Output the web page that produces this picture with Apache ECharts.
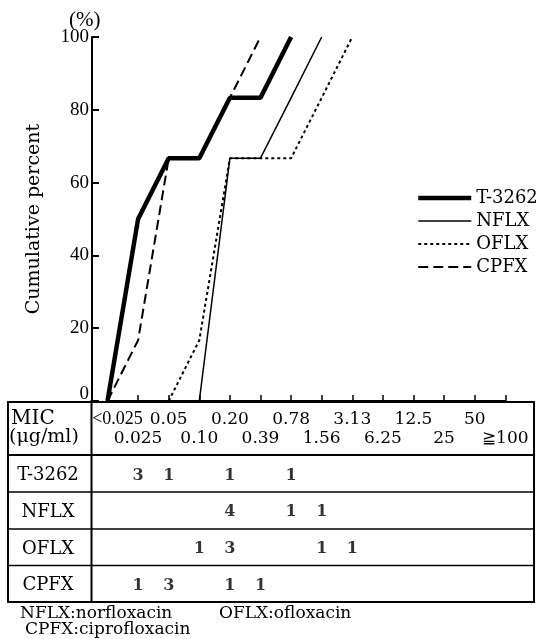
<!DOCTYPE html>
<html>
<head>
<meta charset="utf-8">
<script src="https://cdn.jsdelivr.net/npm/echarts@6/dist/echarts.min.js"></script>
<style>html,body{margin:0;padding:0;background:#fff}#c{width:538px;height:639px}</style>
</head>
<body>
<div id="c"></div>
<script>
// MIC categories (µg/ml)
const categories = ['<0.025','0.025','0.05','0.10','0.20','0.39','0.78','1.56','3.13','6.25','12.5','25','50','≧100'];
const drugs = ['T-3262','NFLX','OFLX','CPFX'];
// cumulative percent
const cumT3262 = [0,50,66.7,66.7,83.3,83.3,100,null,null,null,null,null,null,null];
const cumNFLX  = [null,null,null,0,66.7,66.7,83.3,100,null,null,null,null,null,null];
const cumOFLX  = [null,null,0,16.7,66.7,66.7,66.7,83.3,100,null,null,null,null,null];
const cumCPFX  = [0,16.7,66.7,66.7,83.3,100,null,null,null,null,null,null,null,null];
// number of strains per MIC (table)
const cntT3262 = [null,3,1,null,1,null,1,null,null,null,null,null,null,null];
const cntNFLX  = [null,null,null,null,4,null,1,1,null,null,null,null,null,null];
const cntOFLX  = [null,null,null,1,3,null,null,1,1,null,null,null,null,null];
const cntCPFX  = [null,1,3,null,1,1,null,null,null,null,null,null,null,null];

const serif = 'DejaVu Serif';
const gridLeft = 107.5, gridRight = 32.7;

const cums = [cumT3262, cumNFLX, cumOFLX, cumCPFX];
const cnts = [cntT3262, cntNFLX, cntOFLX, cntCPFX];
const styles = [
  {width: 4.5, type: 'solid'},
  {width: 1.5, type: 'solid'},
  {width: 2, type: [3, 3]},
  {width: 2, type: [10, 5]}
];

const lineSeries = drugs.map((d, k) => ({
  name: d, type: 'line', xAxisIndex: 0, yAxisIndex: 0,
  data: cums[k], symbol: 'none', clip: false, connectNulls: false,
  lineStyle: Object.assign({color: '#000'}, styles[k]),
  itemStyle: {color: '#000'}
}));

const tableSeries = drugs.map((d, k) => ({
  name: 'tbl-' + d, type: 'scatter', xAxisIndex: 1, yAxisIndex: 1,
  symbolSize: 0,
  data: cnts[k].map((c, i) => c == null ? null : [categories[i], d, c]).filter(v => v),
  label: {show: true, position: 'inside', formatter: p => p.value[2],
          color: '#000', fontFamily: serif, fontWeight: 'bold', fontSize: 16}
}));

const chart = echarts.init(document.getElementById('c'), null, {renderer: 'canvas'});
chart.setOption({
  backgroundColor: '#fff',
  animation: false,
  title: {text: '(%)', left: 64, top: 5,
          textStyle: {fontFamily: 'Liberation Serif', fontSize: 21, fontWeight: 'normal', color: '#000'}},
  legend: {
    data: drugs, orient: 'vertical', left: 411, top: 184,
    itemWidth: 53, itemHeight: 14, itemGap: 5,
    itemStyle: {opacity: 0},
    lineStyle: {width: 'inherit', type: 'inherit'},
    textStyle: {fontFamily: serif, fontSize: 18, color: '#000', lineHeight: 18}
  },
  grid: [
    {left: gridLeft, right: gridRight, top: 37, height: 364},
    {left: gridLeft, right: gridRight, top: 457, height: 147}
  ],
  xAxis: [
    {type: 'category', gridIndex: 0, data: categories, boundaryGap: false,
     axisLine: {show: true, lineStyle: {color: '#000', width: 2}},
     axisTick: {show: true, inside: true, length: 6, interval: 0, lineStyle: {color: '#000', width: 1.5}},
     axisLabel: {show: true, interval: 0, margin: 9, color: '#000', fontFamily: serif, fontSize: 17, lineHeight: 19,
       formatter: (v, i) => {
         if (i === 0) return '{f|' + v + '}\n\u00a0';
         return i % 2 === 0 ? v + '\n\u00a0' : '\u00a0\n' + v;
       },
       rich: {f: {padding: [0, 0, 0, 20], fontFamily: 'Liberation Serif', fontSize: 18, color: '#000', lineHeight: 19}}
     },
     splitLine: {show: false}},
    {type: 'category', gridIndex: 1, data: categories, boundaryGap: false, show: false}
  ],
  yAxis: [
    {type: 'value', gridIndex: 0, min: 0, max: 100, interval: 20, offset: 15.5,
     name: 'Cumulative percent', nameLocation: 'middle', nameRotate: 90, nameGap: 48,
     nameTextStyle: {fontFamily: serif, fontSize: 19, color: '#000'},
     axisLine: {show: true, lineStyle: {color: '#000', width: 2}},
     axisTick: {show: true, inside: true, length: 7, lineStyle: {color: '#000', width: 2}},
     axisLabel: {margin: 3, color: '#000', fontFamily: 'Liberation Serif', fontSize: 19,
       formatter: v => v === 0 ? '{z|0}' : String(v),
       rich: {z: {padding: [0, 0, 14, 0], fontFamily: 'Liberation Serif', fontSize: 19, color: '#000'}}},
     splitLine: {show: false}},
    {type: 'category', gridIndex: 1, data: drugs, inverse: true, offset: 15.5,
     axisLine: {show: false}, axisTick: {show: false}, splitLine: {show: false},
     axisLabel: {align: 'center', margin: 44, color: '#000', fontFamily: serif, fontSize: 18}}
  ],
  graphic: [
    {type: 'rect', shape: {x: 8, y: 402, width: 526, height: 200}, style: {fill: null, stroke: '#000', lineWidth: 2}, z: 10},
    {type: 'line', shape: {x1: 8, y1: 455, x2: 534, y2: 455}, style: {stroke: '#000', lineWidth: 2}, z: 10},
    {type: 'line', shape: {x1: 8, y1: 492, x2: 534, y2: 492}, style: {stroke: '#000', lineWidth: 1.5}, z: 10},
    {type: 'line', shape: {x1: 8, y1: 529, x2: 534, y2: 529}, style: {stroke: '#000', lineWidth: 1.5}, z: 10},
    {type: 'line', shape: {x1: 8, y1: 565.5, x2: 534, y2: 565.5}, style: {stroke: '#000', lineWidth: 1.5}, z: 10},
    {type: 'line', shape: {x1: 91.5, y1: 400, x2: 91.5, y2: 602}, style: {stroke: '#000', lineWidth: 2}, z: 10},
    {type: 'text', left: 11, top: 409, style: {text: 'MIC', font: '20px "DejaVu Serif"', fill: '#000'}},
    {type: 'text', left: 9, top: 428, style: {text: '(μg/ml)', font: '19px "DejaVu Serif"', fill: '#000'}},
    {type: 'text', left: 20, top: 605, style: {text: 'NFLX:norfloxacin', font: '17px "DejaVu Serif"', fill: '#000'}},
    {type: 'text', left: 219, top: 605, style: {text: 'OFLX:ofloxacin', font: '17px "DejaVu Serif"', fill: '#000'}},
    {type: 'text', left: 25, top: 621, style: {text: 'CPFX:ciprofloxacin', font: '17px "DejaVu Serif"', fill: '#000'}}
  ],
  series: lineSeries.concat(tableSeries)
});
</script>
</body>
</html>
